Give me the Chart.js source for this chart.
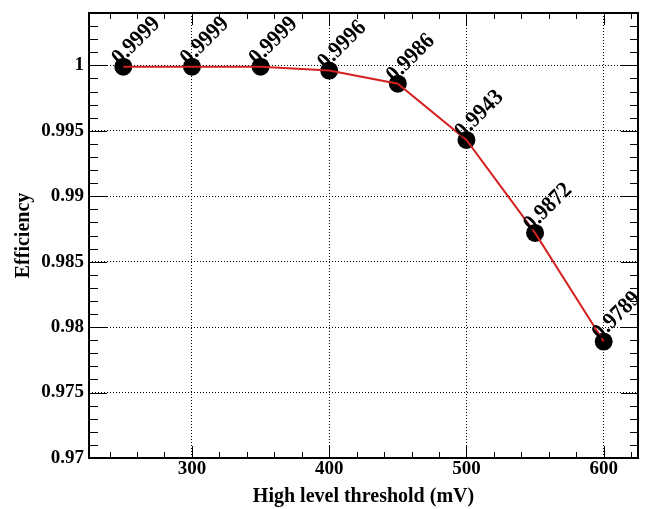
<!DOCTYPE html>
<html>
<head>
<meta charset="utf-8">
<title>Efficiency vs high level threshold</title>
<script src="https://cdn.jsdelivr.net/npm/chart.js@4"></script>
<style>
  body { margin: 0; background: #fff; }
  canvas { display: block; }
</style>
</head>
<body>
<canvas id="eff" width="661" height="509"></canvas>
<script>
"use strict";

// values
const thresholds = [250, 300, 350, 400, 450, 500, 550, 600];
const efficiency = [0.9999, 0.9999, 0.9999, 0.9996, 0.9986, 0.9943, 0.9872, 0.9789];
const pointLabels = ["0.9999", "0.9999", "0.9999", "0.9996", "0.9986", "0.9943", "0.9872", "0.9789"];

// axes
const xTickLabels = [300, 400, 500, 600];
const yTickLabels = ["0.97", "0.975", "0.98", "0.985", "0.99", "0.995", "1"];

const FONT = "'Liberation Serif', 'DejaVu Serif', serif";
Chart.defaults.font.family = FONT;
Chart.defaults.font.weight = "bold";
Chart.defaults.color = "#000";

const xMinor = [];
for (let v = 240; v <= 620; v += 20) xMinor.push(v);
const yMinor = [];
for (let k = 970; k <= 1004; k++) yMinor.push(k / 1000);

const isXMajor = v => xTickLabels.includes(v);
const yLabelFor = v => {
  const s = String(Math.round(v * 1000) / 1000);
  return yTickLabels.includes(s) ? s : "";
};

// ROOT-like frame with ticks on all four sides
const frame = {
  id: "frame",
  beforeDatasetsDraw(chart) {
    const ctx = chart.ctx;
    const xs = chart.scales.x, ys = chart.scales.y;
    const { left, right, top, bottom } = chart.chartArea;
    ctx.save();
    ctx.strokeStyle = "#000";
    ctx.lineWidth = 1;
    ctx.beginPath();
    xs.ticks.forEach(t => {
      const px = Math.round(xs.getPixelForValue(t.value)) + 0.5;
      const major = isXMajor(t.value);
      ctx.moveTo(px, bottom); ctx.lineTo(px, bottom - (major ? 12 : 6));
      ctx.moveTo(px, top); ctx.lineTo(px, top + (major ? 12 : 6));
    });
    ys.ticks.forEach(t => {
      const py = Math.round(ys.getPixelForValue(t.value)) + 0.5;
      const major = yLabelFor(t.value) !== "";
      ctx.moveTo(left, py); ctx.lineTo(left + (major ? 18 : 9), py);
      ctx.moveTo(right, py); ctx.lineTo(right - (major ? 17 : 8), py);
    });
    ctx.stroke();
    ctx.lineWidth = 2;
    ctx.strokeRect(left, top, right - left, bottom - top);
    ctx.restore();
  },
  afterDatasetsDraw(chart) {
    // rotated value labels next to each marker
    const ctx = chart.ctx;
    const meta = chart.getDatasetMeta(0);
    ctx.save();
    ctx.fillStyle = "#000";
    ctx.font = "bold 23px " + FONT;
    ctx.textAlign = "left";
    ctx.textBaseline = "alphabetic";
    meta.data.forEach((pt, i) => {
      ctx.save();
      ctx.translate(pt.x, pt.y);
      ctx.rotate(-Math.PI / 4);
      ctx.scale(0.92, 1);
      ctx.fillText(pointLabels[i], -2, -3);
      ctx.restore();
    });
    ctx.restore();
  }
};

const points = thresholds.map((x, i) => ({ x: x, y: efficiency[i] }));

new Chart(document.getElementById("eff"), {
  type: "line",
  data: {
    datasets: [
      {
        label: "markers",
        data: points,
        showLine: false,
        pointRadius: 9,
        pointBackgroundColor: "#000",
        pointBorderWidth: 0,
        order: 2,
      },
      {
        label: "efficiency",
        data: points,
        borderColor: "#d42020",
        borderWidth: 2,
        pointRadius: 0,
        tension: 0,
        order: 1,
      },
    ],
  },
  options: {
    responsive: false,
    animation: false,
    layout: { padding: { left: 0, right: 23, top: 13, bottom: 0 } },
    plugins: { legend: { display: false }, tooltip: { enabled: false } },
    scales: {
      x: {
        type: "linear",
        min: 225,
        max: 625,
        afterBuildTicks: s => { s.ticks = xMinor.map(v => ({ value: v })); },
        afterFit: s => { s.height = 51; s.paddingLeft = 0; s.paddingRight = 0; },
        ticks: {
          autoSkip: false,
          maxRotation: 0,
          padding: 0,
          font: { size: 19, weight: "bold" },
          callback: v => (isXMajor(v) ? String(v) : ""),
        },
        grid: {
          drawTicks: false,
          lineWidth: 1,
          color: c => (c.tick && isXMajor(c.tick.value) ? "#000" : "transparent"),
        },
        border: { display: false, dash: [1, 2] },
        title: {
          display: true,
          text: "High level threshold (mV)",
          font: { size: 20, weight: "bold" },
          padding: { top: 0, bottom: 0 },
        },
      },
      y: {
        min: 0.97,
        max: 1.004,
        afterBuildTicks: s => { s.ticks = yMinor.map(v => ({ value: v })); },
        afterFit: s => { s.width = 89; s.paddingTop = 0; s.paddingBottom = 0; },
        ticks: {
          autoSkip: false,
          padding: 5,
          font: { size: 19, weight: "bold" },
          callback: v => yLabelFor(v),
        },
        grid: {
          drawTicks: false,
          lineWidth: 1,
          color: c => (c.tick && yLabelFor(c.tick.value) !== "" ? "#000" : "transparent"),
        },
        border: { display: false, dash: [1, 2] },
        title: {
          display: true,
          text: "Efficiency",
          font: { size: 20, weight: "bold" },
          padding: { top: 12, bottom: 0 },
        },
      },
    },
  },
  plugins: [frame],
});
</script>
</body>
</html>
